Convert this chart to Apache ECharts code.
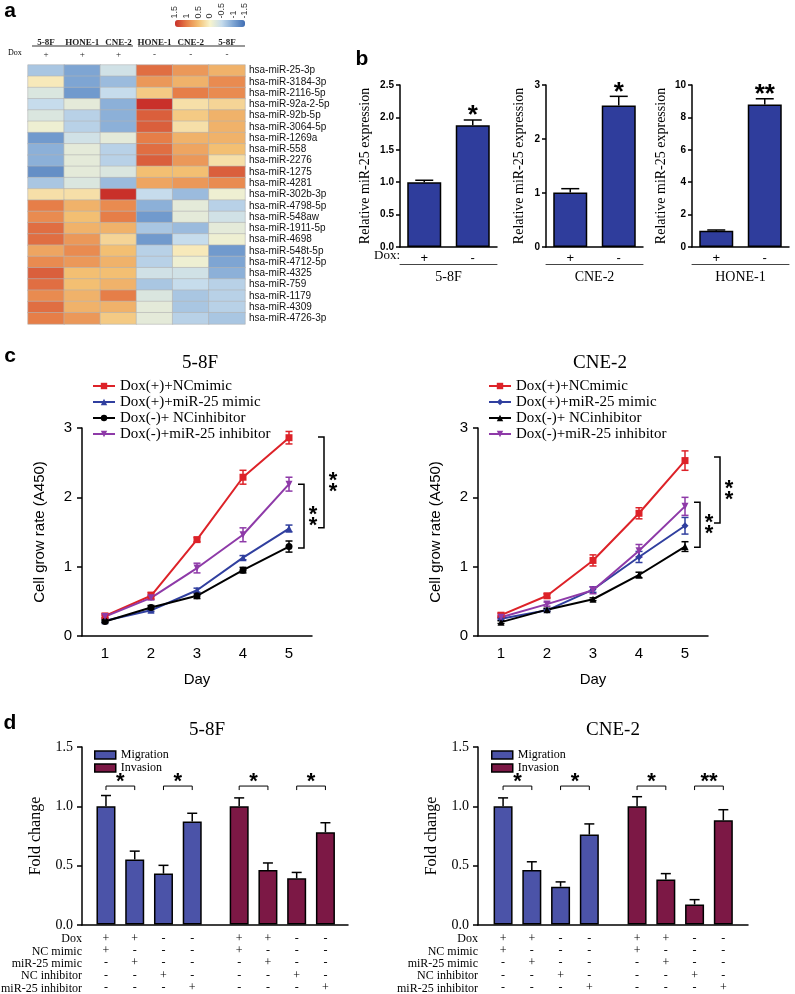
<!DOCTYPE html>
<html>
<head>
<meta charset="UTF-8">
<title>miR-25 figure</title>
<script src="https://cdn.jsdelivr.net/npm/echarts@6/dist/echarts.min.js"></script>
</head>
<body style="margin:0;background:#fff">
<div id="container" style="width:795px;height:994px"></div>
<script type="text/javascript">
var SERIF = '"Liberation Serif", "Times New Roman", serif';
var SANS = '"Liberation Sans", Arial, sans-serif';

// ---------- a: heatmap ----------
var heatCols = ['5-8F', 'HONE-1', 'CNE-2', 'HONE-1', 'CNE-2', '5-8F'];
var heatDox = ['+', '+', '+', '-', '-', '-'];
var heatRows = ['hsa-miR-25-3p', 'hsa-miR-3184-3p', 'hsa-miR-2116-5p', 'hsa-miR-92a-2-5p',
    'hsa-miR-92b-5p', 'hsa-miR-3064-5p', 'hsa-miR-1269a', 'hsa-miR-558', 'hsa-miR-2276',
    'hsa-miR-1275', 'hsa-miR-4281', 'hsa-miR-302b-3p', 'hsa-miR-4798-5p', 'hsa-miR-548aw',
    'hsa-miR-1911-5p', 'hsa-miR-4698', 'hsa-miR-548t-5p', 'hsa-miR-4712-5p', 'hsa-miR-4325',
    'hsa-miR-759', 'hsa-miR-1179', 'hsa-miR-4309', 'hsa-miR-4726-3p'];
var heatValues = [
    [-0.7, -1.0, -0.4, 1.1, 0.8, 0.6],
    [0.1, -1.0, -0.8, 0.8, 0.6, 0.9],
    [-0.3, -1.1, -0.5, 0.4, 1.0, 0.9],
    [-0.5, -0.2, -0.9, 1.5, 0.2, 0.3],
    [-0.3, -0.6, -0.9, 1.2, 0.4, 0.6],
    [-0.1, -0.6, -0.9, 1.2, 0.2, 0.6],
    [-1.1, -0.4, -0.2, 1.0, 0.6, 0.6],
    [-0.9, -0.2, -0.6, 1.1, 0.7, 0.5],
    [-0.9, -0.2, -0.6, 1.2, 0.8, 0.2],
    [-1.2, -0.2, -0.3, 0.5, 0.5, 1.2],
    [-0.7, -0.3, -0.8, 0.7, 0.8, 0.9],
    [0.2, 0.2, 1.5, -0.5, -0.8, -0.1],
    [1.0, 0.6, 0.9, -0.9, -0.2, -0.6],
    [0.9, 0.5, 1.0, -1.1, -0.2, -0.4],
    [1.1, 0.6, 0.6, -0.7, -0.8, -0.2],
    [1.1, 0.8, 0.3, -1.1, -0.5, -0.1],
    [0.7, 0.9, 0.5, -0.6, 0.1, -1.1],
    [0.9, 0.8, 0.6, -0.6, -0.1, -1.0],
    [1.2, 0.5, 0.5, -0.4, -0.4, -0.9],
    [1.1, 0.5, 0.6, -0.7, -0.5, -0.6],
    [0.9, 0.6, 1.0, -0.3, -0.7, -0.6],
    [1.1, 0.6, 0.6, -0.2, -0.7, -0.6],
    [1.0, 0.8, 0.4, -0.2, -0.6, -0.7]
];
var colorTicks = ['1.5', '1', '0.5', '0', '-0.5', '-1', '-1.5'];

// ---------- b: miR-25 expression ----------
var bDox = ['+', '-'];
var b58F = [1.0, 1.88], b58FErr = [0.03, 0.08], b58FStars = ['', '*'];
var bCNE2 = [1.01, 2.62], bCNE2Err = [0.07, 0.17], bCNE2Stars = ['', '*'];
var bHONE1 = [1.0, 8.8], bHONE1Err = [0.05, 0.35], bHONE1Stars = ['', '**'];

// ---------- c: growth curves ----------
var days = ['1', '2', '3', '4', '5'];
var cNames = ['Dox(+)+NCmimic', 'Dox(+)+miR-25 mimic', 'Dox(-)+ NCinhibitor', 'Dox(-)+miR-25 inhibitor'];
var c58F_ncMimic = [0.29, 0.58, 1.39, 2.29, 2.86], c58F_ncMimicErr = [0.03, 0.05, 0.03, 0.10, 0.09];
var c58F_mimic = [0.22, 0.37, 0.66, 1.13, 1.55], c58F_mimicErr = [0.02, 0.02, 0.03, 0.03, 0.05];
var c58F_ncInh = [0.21, 0.41, 0.58, 0.95, 1.29], c58F_ncInhErr = [0.02, 0.03, 0.04, 0.04, 0.08];
var c58F_inh = [0.28, 0.55, 0.98, 1.46, 2.19], c58F_inhErr = [0.02, 0.03, 0.07, 0.10, 0.10];
var c58F_brackets = [[2.87, 1.56], [2.19, 1.27]];
var cCNE2_ncMimic = [0.30, 0.58, 1.09, 1.77, 2.53], cCNE2_ncMimicErr = [0.03, 0.03, 0.08, 0.08, 0.14];
var cCNE2_mimic = [0.25, 0.37, 0.67, 1.14, 1.59], cCNE2_mimicErr = [0.02, 0.02, 0.04, 0.08, 0.12];
var cCNE2_ncInh = [0.20, 0.38, 0.53, 0.88, 1.29], cCNE2_ncInhErr = [0.02, 0.02, 0.02, 0.04, 0.07];
var cCNE2_inh = [0.27, 0.46, 0.66, 1.23, 1.87], cCNE2_inhErr = [0.02, 0.03, 0.05, 0.09, 0.13];
var cCNE2_brackets = [[2.58, 1.63], [1.93, 1.28]];
var cStars = ['**', '**'];

// ---------- d: migration / invasion ----------
var dConds = ['Dox', 'NC mimic', 'miR-25 mimic', 'NC inhibitor', 'miR-25 inhibitor'];
var dGroups = ['NC mimic', 'miR-25 mimic', 'NC inhibitor', 'miR-25 inhibitor'];
var dSigns = [
    ['+', '+', '-', '-'],
    ['+', '-', '-', '-'],
    ['-', '+', '-', '-'],
    ['-', '-', '+', '-'],
    ['-', '-', '-', '+']
];
var d58F_mig = [1.0, 0.55, 0.43, 0.87], d58F_migErr = [0.09, 0.07, 0.07, 0.07];
var d58F_inv = [1.0, 0.46, 0.39, 0.78], d58F_invErr = [0.07, 0.06, 0.05, 0.08];
var d58F_stars = [['*', '*'], ['*', '*']];
var dCNE2_mig = [1.0, 0.46, 0.32, 0.76], dCNE2_migErr = [0.07, 0.07, 0.04, 0.09];
var dCNE2_inv = [1.0, 0.38, 0.17, 0.88], dCNE2_invErr = [0.08, 0.05, 0.04, 0.09];
var dCNE2_stars = [['*', '*'], ['*', '**']];
var dBracketLevel = 1.17;

var chart = echarts.init(document.getElementById('container'));
var grids = [], xAxes = [], yAxes = [], series = [], graphics = [], legends = [];
function addGrid(g) { grids.push(g); return grids.length - 1; }
function addX(a) { xAxes.push(a); return xAxes.length - 1; }
function addY(a) { yAxes.push(a); return yAxes.length - 1; }

function txt(x, y, text, font, align, valign, extra) {
    var s = {text: text, font: font, fill: '#000', textAlign: align, textVerticalAlign: valign,
        align: align, verticalAlign: valign};
    if (extra) for (var k in extra) s[k] = extra[k];
    return {type: 'text', x: x, y: y, style: s, silent: true};
}

// error bar (upwards only) with optional star above
function errUp(capHalf, stars, starFont, starGap) {
    return function (params, api) {
        var i = api.value(0), v = api.value(1), e = api.value(2);
        var p0 = api.coord([i, v]), p1 = api.coord([i, v + e]);
        var ch = [
            {type: 'line', shape: {x1: p0[0], y1: p0[1], x2: p1[0], y2: p1[1]}, style: {stroke: '#000', lineWidth: 1.5}},
            {type: 'line', shape: {x1: p1[0] - capHalf, y1: p1[1], x2: p1[0] + capHalf, y2: p1[1]}, style: {stroke: '#000', lineWidth: 1.5}}
        ];
        var s = stars ? stars[params.dataIndex] : '';
        if (s) ch.push(txt(p1[0], p1[1] - starGap, s, starFont, 'center', 'middle'));
        return {type: 'group', children: ch};
    };
}
// symmetric error bar
function errBoth(color) {
    return function (params, api) {
        var i = api.value(0), v = api.value(1), e = api.value(2);
        var a = api.coord([i, v - e]), b = api.coord([i, v + e]);
        var st = {stroke: color, lineWidth: 1.5};
        return {type: 'group', children: [
            {type: 'line', shape: {x1: a[0], y1: a[1], x2: b[0], y2: b[1]}, style: st},
            {type: 'line', shape: {x1: a[0] - 3.5, y1: a[1], x2: a[0] + 3.5, y2: a[1]}, style: st},
            {type: 'line', shape: {x1: b[0] - 3.5, y1: b[1], x2: b[0] + 3.5, y2: b[1]}, style: st}
        ]};
    };
}

// ===== panel a =====
var gH = addGrid({left: 28, top: 65, width: 217, height: 259});
var xH = addX({gridIndex: gH, type: 'category', data: heatCols, position: 'top', offset: 10,
    axisLine: {show: false}, axisTick: {show: false},
    axisLabel: {interval: 0, margin: 8, fontFamily: SERIF, fontSize: 9, fontWeight: 'bold', color: '#222'}});
addX({gridIndex: gH, type: 'category', data: heatDox, position: 'top', offset: 0,
    axisLine: {show: false}, axisTick: {show: false},
    axisLabel: {interval: 0, margin: 6, fontFamily: SERIF, fontSize: 9, color: '#222'}});
var yH = addY({gridIndex: gH, type: 'category', data: heatRows, inverse: true, position: 'right',
    axisLine: {show: false}, axisTick: {show: false},
    axisLabel: {interval: 0, margin: 4, fontFamily: SANS, fontSize: 10, color: '#111'}});
var heatData = [];
heatValues.forEach(function (row, r) {
    row.forEach(function (v, c) { heatData.push([c, r, v]); });
});
series.push({type: 'heatmap', xAxisIndex: xH, yAxisIndex: yH, data: heatData,
    itemStyle: {borderColor: '#b4b4b4', borderWidth: 0.6}, emphasis: {disabled: true}});

// colour key ticks
var gK = addGrid({left: 175, top: 20, width: 70, height: 7});
addX({gridIndex: gK, type: 'category', data: colorTicks, boundaryGap: false, position: 'top',
    axisLine: {show: false}, axisTick: {show: false},
    axisLabel: {interval: 0, rotate: 90, margin: 2, fontFamily: SANS, fontSize: 9, color: '#333'}});
addY({gridIndex: gK, type: 'value', show: false});

graphics.push(txt(10, 11, 'a', 'bold 21px ' + SANS, 'center', 'middle'));
graphics.push(txt(8, 53, 'Dox', '8px ' + SERIF, 'left', 'middle'));
graphics.push({type: 'line', shape: {x1: 32, y1: 46, x2: 133, y2: 46}, style: {stroke: '#333', lineWidth: 1.2}});
graphics.push({type: 'line', shape: {x1: 138, y1: 46, x2: 245, y2: 46}, style: {stroke: '#333', lineWidth: 1.2}});

// ===== panel b =====
function barPanel(left, data, err, stars, yMax, yInt, fmt, cell, nameGap) {
    var g = addGrid({left: left, top: 85, width: 97, height: 162});
    var x = addX({gridIndex: g, type: 'category', data: bDox,
        axisLine: {lineStyle: {color: '#000', width: 1.5}}, axisTick: {show: false},
        axisLabel: {margin: 5, fontFamily: SANS, fontSize: 13, color: '#000'}});
    addX({gridIndex: g, type: 'category', data: bDox, position: 'bottom', offset: 17,
        axisLine: {lineStyle: {color: '#444', width: 1}}, axisTick: {show: false}, axisLabel: {show: false},
        name: cell, nameLocation: 'middle', nameGap: 6,
        nameTextStyle: {fontFamily: SERIF, fontSize: 14, color: '#000', verticalAlign: 'top'}});
    var y = addY({gridIndex: g, type: 'value', min: 0, max: yMax, interval: yInt, splitLine: {show: false},
        axisLine: {show: true, lineStyle: {color: '#000', width: 1.5}},
        axisTick: {show: true, length: 4, lineStyle: {color: '#000', width: 1.5}},
        axisLabel: {formatter: fmt, margin: 6, fontFamily: SANS, fontSize: 10, fontWeight: 'bold', color: '#000'},
        name: 'Relative miR-25 expression', nameLocation: 'middle', nameRotate: 90, nameGap: nameGap,
        nameTextStyle: {fontFamily: SERIF, fontSize: 14, color: '#000'}});
    series.push({type: 'bar', xAxisIndex: x, yAxisIndex: y, data: data, barWidth: 34,
        itemStyle: {color: '#2f3d9c', borderColor: '#000', borderWidth: 1.5}});
    series.push({type: 'custom', xAxisIndex: x, yAxisIndex: y, z: 3,
        data: data.map(function (v, i) { return [i, v, err[i]]; }),
        renderItem: errUp(9, stars, 'bold 26px ' + SANS, 4)});
}
barPanel(400, b58F, b58FErr, b58FStars, 2.5, 0.5, function (v) { return v.toFixed(1); }, '5-8F', 28);
barPanel(546, bCNE2, bCNE2Err, bCNE2Stars, 3, 1, null, 'CNE-2', 20);
barPanel(692, bHONE1, bHONE1Err, bHONE1Stars, 10, 2, null, 'HONE-1', 24);
graphics.push(txt(362, 59, 'b', 'bold 21px ' + SANS, 'center', 'middle'));
graphics.push(txt(374, 256, 'Dox:', '13px ' + SERIF, 'left', 'middle'));

// ===== panel c =====
function linePanel(left, tag, sets, brackets, legendLeft) {
    var g = addGrid({left: left, top: 428, width: 230, height: 208});
    var x = addX({gridIndex: g, type: 'category', data: days, boundaryGap: true,
        axisLine: {lineStyle: {color: '#000', width: 1.5}},
        axisTick: {alignWithLabel: true, length: 5, lineStyle: {color: '#000', width: 1.5}},
        axisLabel: {margin: 10, fontFamily: SANS, fontSize: 15, color: '#000'},
        name: 'Day', nameLocation: 'middle', nameGap: 36,
        nameTextStyle: {fontFamily: SANS, fontSize: 15, color: '#000'}});
    var y = addY({gridIndex: g, type: 'value', min: 0, max: 3, interval: 1, splitLine: {show: false},
        axisLine: {show: true, lineStyle: {color: '#000', width: 1.5}},
        axisTick: {show: true, length: 5, lineStyle: {color: '#000', width: 1.5}},
        axisLabel: {margin: 10, fontFamily: SANS, fontSize: 15, color: '#000'},
        name: 'Cell grow rate (A450)', nameLocation: 'middle', nameRotate: 90, nameGap: 35,
        nameTextStyle: {fontFamily: SANS, fontSize: 15, color: '#000'}});
    var names = [];
    sets.forEach(function (s) {
        var nm = s.name + '|' + tag;
        names.push(nm);
        series.push({type: 'line', name: nm, xAxisIndex: x, yAxisIndex: y, data: s.data,
            symbol: s.symbol, symbolRotate: s.rotate || 0, symbolSize: 7, z: 4,
            lineStyle: {color: s.color, width: 2}, itemStyle: {color: s.color}, emphasis: {disabled: true}});
        series.push({type: 'custom', xAxisIndex: x, yAxisIndex: y, z: 3,
            data: s.data.map(function (v, i) { return [i, v, s.err[i]]; }),
            renderItem: errBoth(s.color)});
    });
    var offs = [35, 15];
    series.push({type: 'custom', xAxisIndex: x, yAxisIndex: y, data: brackets,
        renderItem: function (params, api) {
            var xb = api.coord([4, 0])[0] + offs[params.dataIndex];
            var y1 = api.coord([4, api.value(0)])[1], y2 = api.coord([4, api.value(1)])[1];
            return {type: 'group', children: [
                {type: 'polyline', shape: {points: [[xb - 6, y1], [xb, y1], [xb, y2], [xb - 6, y2]]},
                    style: {stroke: '#000', lineWidth: 1.5, fill: null}},
                txt(xb + 9, (y1 + y2) / 2 + 4, cStars[params.dataIndex].split('').join('\n'),
                    'bold 22px ' + SANS, 'center', 'middle', {lineHeight: 11})
            ]};
        }});
    legends.push({orient: 'vertical', left: legendLeft, top: 373, itemWidth: 22, itemHeight: 8, itemGap: 0,
        selectedMode: false, data: names,
        formatter: function (n) { return n.split('|')[0]; },
        textStyle: {fontFamily: SERIF, fontSize: 15, color: '#000', lineHeight: 16}});
}
var RED = '#dd2228', BLUE = '#303f9f', BLACK = '#000000', PURPLE = '#8e3aa8';
linePanel(82, 'L', [
    {name: cNames[0], data: c58F_ncMimic, err: c58F_ncMimicErr, color: RED, symbol: 'rect'},
    {name: cNames[1], data: c58F_mimic, err: c58F_mimicErr, color: BLUE, symbol: 'triangle'},
    {name: cNames[2], data: c58F_ncInh, err: c58F_ncInhErr, color: BLACK, symbol: 'circle'},
    {name: cNames[3], data: c58F_inh, err: c58F_inhErr, color: PURPLE, symbol: 'triangle', rotate: 180}
], c58F_brackets, 87);
linePanel(478, 'R', [
    {name: cNames[0], data: cCNE2_ncMimic, err: cCNE2_ncMimicErr, color: RED, symbol: 'rect'},
    {name: cNames[1], data: cCNE2_mimic, err: cCNE2_mimicErr, color: BLUE, symbol: 'diamond'},
    {name: cNames[2], data: cCNE2_ncInh, err: cCNE2_ncInhErr, color: BLACK, symbol: 'triangle'},
    {name: cNames[3], data: cCNE2_inh, err: cCNE2_inhErr, color: PURPLE, symbol: 'triangle', rotate: 180}
], cCNE2_brackets, 483);
graphics.push(txt(10, 356, 'c', 'bold 21px ' + SANS, 'center', 'middle'));
graphics.push(txt(200, 363, '5-8F', '19px ' + SERIF, 'center', 'middle'));
graphics.push(txt(600, 363, 'CNE-2', '19px ' + SERIF, 'center', 'middle'));

// ===== panel d =====
function dPanel(frameLeft, frameWidth, migLeft, invLeft, mig, migErr, inv, invErr, stars, legendLeft) {
    var top = 747, h = 178;
    var gf = addGrid({left: frameLeft, top: top, width: frameWidth, height: h});
    addX({gridIndex: gf, type: 'value', min: 0, max: 1, splitLine: {show: false},
        axisLine: {show: true, lineStyle: {color: '#000', width: 1.5}}, axisTick: {show: false}, axisLabel: {show: false}});
    addY({gridIndex: gf, type: 'value', min: 0, max: 1.5, interval: 0.5, splitLine: {show: false},
        axisLine: {show: true, lineStyle: {color: '#000', width: 1.5}},
        axisTick: {show: true, length: 5, lineStyle: {color: '#000', width: 1.5}},
        axisLabel: {formatter: function (v) { return v.toFixed(1); }, margin: 9, fontFamily: SERIF, fontSize: 14, color: '#000'},
        name: 'Fold change', nameLocation: 'middle', nameRotate: 90, nameGap: 38,
        nameTextStyle: {fontFamily: SERIF, fontSize: 16, color: '#000'}});
    [[migLeft, mig, migErr, stars[0], 'Migration', '#4b53a8'],
     [invLeft, inv, invErr, stars[1], 'Invasion', '#7c1845']].forEach(function (p) {
        var g = addGrid({left: p[0], top: top, width: 115, height: h});
        var x = addX({gridIndex: g, type: 'category', data: dGroups,
            axisLine: {show: false}, axisTick: {show: false},
            axisLabel: {interval: 0, margin: 8, fontFamily: SERIF, fontSize: 12, lineHeight: 12.3, color: '#000',
                formatter: function (v, idx) { return dSigns.map(function (r) { return r[idx]; }).join('\n'); }}});
        var y = addY({gridIndex: g, type: 'value', min: 0, max: 1.5, show: false});
        series.push({type: 'bar', name: p[4], xAxisIndex: x, yAxisIndex: y, data: p[1], barWidth: 19,
            itemStyle: {color: p[5], borderColor: '#000', borderWidth: 1.5}, emphasis: {disabled: true}});
        series.push({type: 'custom', xAxisIndex: x, yAxisIndex: y, z: 3,
            data: p[1].map(function (v, i) { return [i, v, p[2][i]]; }),
            renderItem: errUp(5, null)});
        var st = p[3];
        series.push({type: 'custom', xAxisIndex: x, yAxisIndex: y,
            data: [[0, 1, dBracketLevel], [2, 3, dBracketLevel]],
            renderItem: function (params, api) {
                var a = api.coord([api.value(0), api.value(2)]), b = api.coord([api.value(1), api.value(2)]);
                return {type: 'group', children: [
                    {type: 'polyline', shape: {points: [[a[0], a[1] + 4], [a[0], a[1]], [b[0], a[1]], [b[0], a[1] + 4]]},
                        style: {stroke: '#000', lineWidth: 1, fill: null}},
                    txt((a[0] + b[0]) / 2, a[1] - 4, st[params.dataIndex], 'bold 22px ' + SANS, 'center', 'middle')
                ]};
            }});
    });
    graphics.push(txt(frameLeft, 933, dConds.join('\n'), '12px ' + SERIF, 'right', 'top', {lineHeight: 12.3}));
    legends.push({orient: 'vertical', left: legendLeft, top: 744, itemWidth: 21, itemHeight: 8, itemGap: 1,
        selectedMode: false, icon: 'rect', data: ['Migration', 'Invasion'],
        itemStyle: {borderColor: '#000', borderWidth: 1.5},
        textStyle: {fontFamily: SERIF, fontSize: 12, color: '#000', lineHeight: 10}});
}
dPanel(82, 266, 91.6, 224.8, d58F_mig, d58F_migErr, d58F_inv, d58F_invErr, d58F_stars, 89);
dPanel(478, 270, 488.7, 622.7, dCNE2_mig, dCNE2_migErr, dCNE2_inv, dCNE2_invErr, dCNE2_stars, 486);
graphics.push(txt(10, 723, 'd', 'bold 21px ' + SANS, 'center', 'middle'));
graphics.push(txt(207, 730, '5-8F', '19px ' + SERIF, 'center', 'middle'));
graphics.push(txt(613, 730, 'CNE-2', '19px ' + SERIF, 'center', 'middle'));

var option = {
    backgroundColor: '#ffffff',
    animation: false,
    grid: grids,
    xAxis: xAxes,
    yAxis: yAxes,
    legend: legends,
    visualMap: {
        type: 'continuous', seriesIndex: 0, min: -1.5, max: 1.5, orient: 'horizontal', inverse: true,
        left: 175, top: 20, itemWidth: 7, itemHeight: 70, padding: 0, calculable: false, hoverLink: false,
        inRange: {color: ['#3f6db3', '#7ea5d3', '#c6dcec', '#f8f4cc', '#f3bf72', '#e67e48', '#c9302a']}
    },
    graphic: graphics,
    series: series
};
chart.setOption(option);
</script>
</body>
</html>
